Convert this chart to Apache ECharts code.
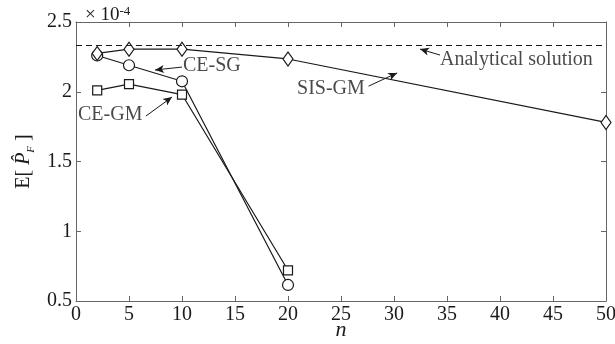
<!DOCTYPE html>
<html><head><meta charset="utf-8">
<script src="https://cdn.jsdelivr.net/npm/echarts@6/dist/echarts.min.js"></script>
<style>html,body{margin:0;padding:0;background:#fff}#c{width:615px;height:344px}</style>
</head><body><div id="c"></div>
<script>
const nCE = [2, 5, 10, 20];
const ceSG = [2.26, 2.19, 2.075, 0.615];
const ceGM = [2.01, 2.055, 1.98, 0.72];
const nSIS = [2, 5, 10, 20, 50];
const sisGM = [2.275, 2.305, 2.305, 2.235, 1.78];
const analytical = 2.33;
const xTicks = [0, 5, 10, 15, 20, 25, 30, 35, 40, 45, 50];
const yTicks = [0.5, 1, 1.5, 2, 2.5];
// annotations in data coordinates: label, text anchor (left, middle), arrow tail, arrow head
const annLabels = ['Analytical solution', 'CE-SG', 'CE-GM', 'SIS-GM'];
const annText = [[34.34, 2.228], [10.09, 2.188], [0.19, 1.833], [20.85, 2.02]];
const annTail = [[34.34, 2.263], [10.0, 2.177], [6.6, 1.826], [27.6, 2.04]];
const annHead = [[32.45, 2.306], [7.45, 2.156], [9.06, 1.962], [30.3, 2.135]];

const FONT = 'Liberation Serif';
const INK = '#1a1a1a';
const AX = '#666';

function pairs(xs, ys) { return xs.map((x, i) => [x, ys[i]]); }

const axCommon = {
  type: 'value', splitLine: { show: false },
  axisLine: { show: true, onZero: false, lineStyle: { color: AX, width: 1 } },
  axisTick: { show: true, inside: true, length: 5, lineStyle: { color: AX } }
};

const chart = echarts.init(document.getElementById('c'), null, { renderer: 'canvas' });
const option = {
  animation: false,
  backgroundColor: '#fff',
  textStyle: { fontFamily: FONT },
  title: {
    text: '{a|× 10}{b|-4}', left: 80, top: 0,
    textStyle: { fontWeight: 'normal', rich: {
      a: { fontFamily: FONT, fontSize: 19, fontWeight: 'normal', color: INK, lineHeight: 20 },
      b: { fontFamily: FONT, fontSize: 13, fontWeight: 'normal', color: INK, verticalAlign: 'top', lineHeight: 14, padding: [0, 0, 6, 0] }
    } }
  },
  grid: { left: 76, right: 9, top: 22, bottom: 43, containLabel: false, outerBoundsMode: 'none' },
  xAxis: [
    Object.assign({}, axCommon, {
      min: xTicks[0], max: xTicks[xTicks.length - 1], interval: 5, position: 'bottom',
      axisLabel: { color: INK, fontFamily: FONT, fontSize: 20, margin: 4 },
      name: 'n', nameLocation: 'middle', nameGap: 18, nameMoveOverlap: false,
      nameTextStyle: { fontFamily: FONT, fontSize: 22, fontStyle: 'italic', color: INK }
    }),
    Object.assign({}, axCommon, {
      min: xTicks[0], max: xTicks[xTicks.length - 1], interval: 5, position: 'top',
      axisLabel: { show: false }
    })
  ],
  yAxis: [
    Object.assign({}, axCommon, {
      min: yTicks[0], max: yTicks[yTicks.length - 1], interval: 0.5, position: 'left',
      axisLabel: { color: INK, fontFamily: FONT, fontSize: 20, margin: 4 },
      name: '{a|E[ }{p|P̂}{s|F}{a| ]}', nameLocation: 'middle', nameGap: 39, nameRotate: 90, nameMoveOverlap: false,
      nameTextStyle: { rich: {
        a: { fontFamily: FONT, fontSize: 20, color: INK, lineHeight: 26 },
        p: { fontFamily: FONT, fontSize: 20, fontStyle: 'italic', color: INK, lineHeight: 26 },
        s: { fontFamily: FONT, fontSize: 11, fontStyle: 'italic', color: INK, lineHeight: 26, verticalAlign: 'bottom', padding: [6, 0, 0, 0] }
      } }
    }),
    Object.assign({}, axCommon, {
      min: yTicks[0], max: yTicks[yTicks.length - 1], interval: 0.5, position: 'right',
      axisLabel: { show: false }
    })
  ],
  series: [
    {
      name: 'Analytical', type: 'line', data: [], silent: true,
      markLine: {
        silent: true, symbol: ['none', 'none'], label: { show: false },
        lineStyle: { color: INK, width: 1.2, type: [6, 4] },
        data: [{ yAxis: analytical }]
      }
    },
    {
      name: 'CE-GM', type: 'line', data: pairs(nCE, ceGM),
      symbol: 'rect', symbolSize: 9, showAllSymbol: true,
      lineStyle: { color: INK, width: 1.2 },
      itemStyle: { color: '#fff', borderColor: INK, borderWidth: 1.2 }
    },
    {
      name: 'CE-SG', type: 'line', data: pairs(nCE, ceSG),
      symbol: 'circle', symbolSize: 11, showAllSymbol: true,
      lineStyle: { color: INK, width: 1.2 },
      itemStyle: { color: '#fff', borderColor: INK, borderWidth: 1.2 }
    },
    {
      name: 'SIS-GM', type: 'line', data: pairs(nSIS, sisGM),
      symbol: 'diamond', symbolSize: [10, 14], showAllSymbol: true,
      lineStyle: { color: INK, width: 1.2 },
      itemStyle: { color: '#fff', borderColor: INK, borderWidth: 1.2 }
    },
    {
      name: 'arrows', type: 'line', data: [], silent: true,
      markLine: {
        silent: true, animation: false, label: { show: false },
        symbol: ['none', 'arrow'], symbolSize: [6, 9],
        lineStyle: { color: INK, width: 1, type: 'solid' },
        data: annTail.map((t, i) => [{ coord: t }, { coord: annHead[i] }])
      }
    },
    {
      name: 'labels', type: 'scatter', silent: true, symbolSize: 0,
      data: annText.map((p, i) => ({ value: p, label: {
        show: true, position: 'right', distance: 0, formatter: annLabels[i],
        fontFamily: FONT, fontSize: 20, color: INK
      } }))
    }
  ]
};
chart.setOption(option);
</script></body></html>
